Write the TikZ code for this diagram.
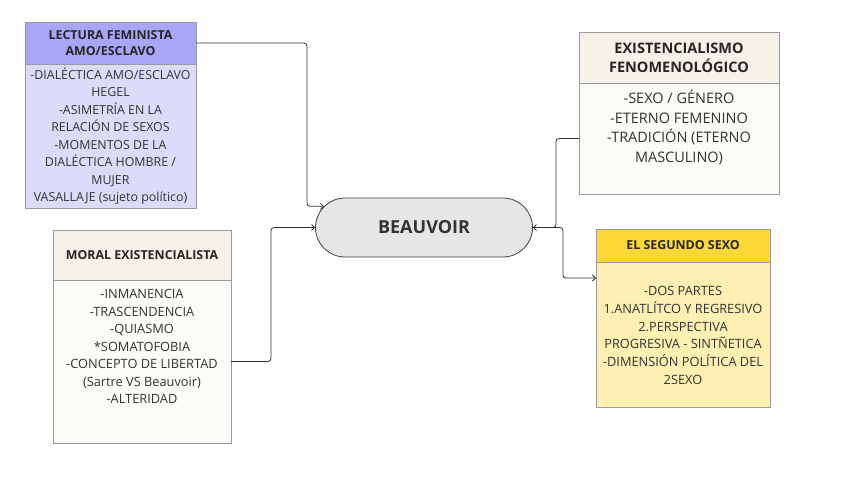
\documentclass[tikz,border=0pt]{standalone}
\usepackage{fontspec}
\setmainfont{Open Sans}
\usetikzlibrary{positioning, shapes.misc, arrows.meta, calc}

\definecolor{lilahead}{HTML}{A9A6F6}
\definecolor{lilabody}{HTML}{DCDBFB}
\definecolor{creamhead}{HTML}{F6F1E9}
\definecolor{creambody}{HTML}{FDFBF7}
\definecolor{goldhead}{HTML}{FDD835}
\definecolor{goldbody}{HTML}{FEF0B2}
\definecolor{pillfill}{HTML}{E6E6E6}
\definecolor{edgegray}{HTML}{9A9A9A}
\definecolor{inkgray}{HTML}{333333}

\tikzset{
  headbox/.style={draw=edgegray, line width=0.8pt, inner sep=0pt, outer sep=0pt,
    align=center, text=black!85, font=\bfseries\fontsize{12.4}{16.5}\selectfont},
  bodybox/.style={draw=edgegray, line width=0.8pt, inner sep=0pt, outer sep=0pt},
  bodytext/.style={align=center, text=inkgray, font=\fontsize{12.8}{17.5}\selectfont},
  pill/.style={rounded rectangle, draw=black!75, line width=0.8pt, fill=pillfill,
    minimum width=217pt, minimum height=59pt, inner sep=0pt,
    text=black!80, font=\bfseries\fontsize{18}{22}\selectfont},
  link/.style={draw=inkgray, line width=0.8pt, rounded corners=3pt,
    -{Straight Barb[length=3pt,width=6pt]}}
}

\begin{document}
\begin{tikzpicture}[x=1pt, y=-1pt]
    \path[use as bounding box] (0,0) rectangle (848,477);

    % Lectura feminista
    \node[headbox, fill=lilahead, minimum width=171pt, minimum height=42pt, anchor=north west]
        (lf-head) at (25,22) {LECTURA FEMINISTA\\AMO/ESCLAVO};
    \node[bodybox, fill=lilabody, minimum width=171pt, minimum height=144pt, below=0pt of lf-head] (lf-body) {};
    \node[bodytext, font=\fontsize{12.4}{17.5}\selectfont] (lf-text) at (lf-body.center)
        {-DIALÉCTICA AMO/ESCLAVO\\HEGEL\\-ASIMETRÍA EN LA\\RELACIÓN DE SEXOS\\-MOMENTOS DE LA\\DIALÉCTICA HOMBRE /\\MUJER\\VASALLAJE (sujeto político)};

    % Moral existencialista
    \node[headbox, fill=creamhead, minimum width=178pt, minimum height=50pt, anchor=north west]
        (me-head) at (53,230) {MORAL EXISTENCIALISTA};
    \node[bodybox, fill=creambody, minimum width=178pt, minimum height=163pt, below=0pt of me-head] (me-body) {};
    \node[bodytext, yshift=15pt] (me-text) at (me-body.center)
        {-INMANENCIA\\-TRASCENDENCIA\\-QUIASMO\\*SOMATOFOBIA\\-CONCEPTO DE LIBERTAD\\(Sartre VS Beauvoir)\\-ALTERIDAD};

    % Existencialismo fenomenologico
    \node[headbox, fill=creamhead, minimum width=200pt, minimum height=51pt, anchor=north west,
        font=\bfseries\fontsize{14.5}{19}\selectfont]
        (ef-head) at (579,32) {EXISTENCIALISMO\\FENOMENOLÓGICO};
    \node[bodybox, fill=creambody, minimum width=200pt, minimum height=111pt, below=0pt of ef-head] (ef-body) {};
    \node[bodytext, yshift=11pt, font=\fontsize{14.5}{19.5}\selectfont] (ef-text) at (ef-body.center)
        {-SEXO / GÉNERO\\-ETERNO FEMENINO\\-TRADICIÓN (ETERNO\\MASCULINO)};

    % El segundo sexo
    \node[headbox, fill=goldhead, minimum width=174pt, minimum height=33pt, anchor=north west]
        (ss-head) at (596,229) {EL SEGUNDO SEXO};
    \node[bodybox, fill=goldbody, minimum width=174pt, minimum height=145pt, below=0pt of ss-head] (ss-body) {};
    \node[bodytext, yshift=-1pt, font=\fontsize{12.8}{17.7}\selectfont] (ss-text) at (ss-body.center)
        {-DOS PARTES\\1.ANATLÍTCO Y REGRESIVO\\2.PERSPECTIVA\\PROGRESIVA - SINTÑETICA\\-DIMENSIÓN POLÍTICA DEL\\2SEXO};

    % Centro
    \node[pill] (bv) at (424,227.5) {BEAUVOIR};

    % Conexiones
    \coordinate (ss-in) at ($(ss-body.north west)+(0,16)$);
    \draw[link] (lf-head.east) -- ++(111,0) |- (bv.168);
    \draw[link] (me-body.east) -- ++(40,0) |- (bv.west);
    \draw[link] (ef-body.west) -- ++(-23,0) |- (bv.east);
    \draw[link] (bv.east) -- ++(30,0) |- (ss-in);
\end{tikzpicture}
\end{document}
